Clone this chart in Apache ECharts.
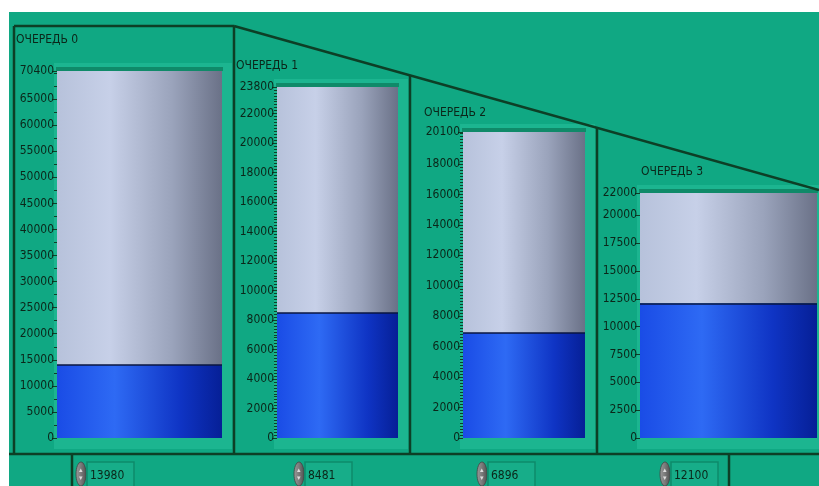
<!DOCTYPE html>
<html>
<head>
<meta charset="utf-8">
<script src="https://cdn.jsdelivr.net/npm/echarts@6/dist/echarts.min.js"></script>
<style>
  html, body { margin: 0; padding: 0; background: #fff; }
  #chart { width: 819px; height: 486px; }
</style>
</head>
<body>
<div id="chart"></div>
<script>
// очереди: подписи, текущие значения, максимумы шкал
var queueNames = ['ОЧЕРЕДЬ 0', 'ОЧЕРЕДЬ 1', 'ОЧЕРЕДЬ 2', 'ОЧЕРЕДЬ 3'];
var queueValues = [13980, 8481, 6896, 12100];
var scaleMax = [70400, 23800, 20100, 22000];
// подписи шкал
var ticks0 = [0, 5000, 10000, 15000, 20000, 25000, 30000, 35000, 40000, 45000, 50000, 55000, 60000, 65000, 70400];
var ticks1 = [0, 2000, 4000, 6000, 8000, 10000, 12000, 14000, 16000, 18000, 20000, 22000, 23800];
var ticks2 = [0, 2000, 4000, 6000, 8000, 10000, 12000, 14000, 16000, 18000, 20100];
var ticks3 = [0, 2500, 5000, 7500, 10000, 12500, 15000, 17500, 20000, 22000];
var majorTicks = [ticks0, ticks1, ticks2, ticks3];
var minorStep = [2500, 200, 200, 0];

var TEAL = '#10a883';
var DARK = '#0d3f26';
var FONT = '"Liberation Sans Narrow", "DejaVu Sans Condensed", sans-serif';

// геометрия баков (пиксели)
var tanks = [
  {left: 57, top: 71, width: 165, height: 367, titleX: 16, titleY: 40},
  {left: 277, top: 87, width: 121, height: 351, titleX: 236, titleY: 66},
  {left: 463, top: 132, width: 122, height: 306, titleX: 424, titleY: 113},
  {left: 640, top: 193, width: 177, height: 245, titleX: 641, titleY: 172}
];
var ctrls = [76, 294, 477, 660];

var chart = echarts.init(document.getElementById('chart'));

var emptyGrad = new echarts.graphic.LinearGradient(0, 0, 1, 0, [
  {offset: 0, color: '#b7c2db'},
  {offset: 0.32, color: '#c7d0e8'},
  {offset: 0.7, color: '#9aa3bb'},
  {offset: 1, color: '#6a7187'}
]);
var fillGrad = new echarts.graphic.LinearGradient(0, 0, 1, 0, [
  {offset: 0, color: '#1a4ce6'},
  {offset: 0.35, color: '#2e6af4'},
  {offset: 0.75, color: '#0f34c4'},
  {offset: 1, color: '#061f96'}
]);

var grids = [], xAxes = [], yAxes = [], series = [], graphics = [];

// фон
graphics.push({type: 'rect', z: -10, shape: {x: 9, y: 12, width: 810, height: 474}, style: {fill: TEAL}});

tanks.forEach(function (t, i) {
  grids.push({left: t.left, top: t.top, width: t.width, height: t.height});
  xAxes.push({type: 'category', gridIndex: i, data: [''], show: false, boundaryGap: true});
  var major = yAxes.length;
  yAxes.push({
    type: 'value', gridIndex: i, position: 'left', min: 0, max: scaleMax[i],
    splitLine: {show: false},
    axisLine: {show: false},
    axisTick: {show: true, length: 5, lineStyle: {color: DARK, width: 1}, customValues: majorTicks[i]},
    axisLabel: {color: '#0b2619', fontFamily: FONT, fontSize: 12, margin: 3, customValues: majorTicks[i],
      formatter: function (v) { return String(v); }}
  });
  if (minorStep[i]) {
    yAxes.push({
      type: 'value', gridIndex: i, position: 'left', min: 0, max: scaleMax[i], interval: minorStep[i],
      splitLine: {show: false}, axisLine: {show: false}, axisLabel: {show: false},
      axisTick: {show: true, length: 3, lineStyle: {color: DARK, width: 1}}
    });
  }
  series.push({
    type: 'bar', xAxisIndex: i, yAxisIndex: major, stack: 'q' + i, barWidth: '100%',
    data: [queueValues[i]], itemStyle: {color: fillGrad}, silent: true,
    markLine: {
      symbol: 'none', silent: true, label: {show: false},
      lineStyle: {color: '#0a1640', width: 1.5, type: 'solid'},
      data: [{yAxis: queueValues[i]}]
    }
  });
  series.push({
    type: 'bar', xAxisIndex: i, yAxisIndex: major, stack: 'q' + i, barWidth: '100%',
    data: [scaleMax[i] - queueValues[i]], itemStyle: {color: emptyGrad}, silent: true
  });

  // рамка бака
  graphics.push({type: 'rect', z: -5, shape: {x: t.left - 3, y: t.top - 8, width: t.width + (i === 3 ? 5 : 13), height: 449 - t.top + 8},
    style: {fill: '#1cb590'}});
  graphics.push({type: 'rect', z: -4, shape: {x: t.left - 1, y: t.top - 4, width: t.width + 2, height: 4},
    style: {fill: '#0f8a69'}});

  graphics.push({type: 'text', z: 50, x: t.titleX, y: t.titleY,
    style: {text: queueNames[i], fill: '#0b2619', font: '12px ' + FONT, textVerticalAlign: 'middle'}});

  // цифровой индикатор
  var cx = ctrls[i];
  graphics.push({type: 'ellipse', z: 50, shape: {cx: cx + 5, cy: 474, rx: 5, ry: 12},
    style: {fill: new echarts.graphic.LinearGradient(0, 0, 1, 0, [{offset: 0, color: '#9a9a9a'}, {offset: 0.5, color: '#7a7a7a'}, {offset: 1, color: '#505050'}]), stroke: '#444', lineWidth: 0.8}});
  graphics.push({type: 'text', z: 51, x: cx + 5, y: 474,
    style: {text: '▴\n▾', fill: '#ddd', font: '7px sans-serif', textAlign: 'center', textVerticalAlign: 'middle', lineHeight: 8}});
  graphics.push({type: 'rect', z: 50, shape: {x: cx + 11, y: 462, width: 47, height: 26},
    style: {fill: '#17ad89', stroke: '#0e8a6b', lineWidth: 1.5}});
  graphics.push({type: 'text', z: 51, x: cx + 14, y: 476,
    style: {text: String(queueValues[i]), fill: '#0b2619', font: '12px ' + FONT, textVerticalAlign: 'middle'}});
});

// линии панелей
var lineStyle = {stroke: DARK, lineWidth: 2.5};
[
  [14, 26, 234, 26],
  [234, 26, 819, 190],
  [14, 26, 14, 454],
  [234, 26, 234, 454],
  [410, 75, 410, 454],
  [597, 127, 597, 454],
  [9, 454, 819, 454],
  [72, 454, 72, 486],
  [729, 454, 729, 486]
].forEach(function (l) {
  graphics.push({type: 'line', z: 60, shape: {x1: l[0], y1: l[1], x2: l[2], y2: l[3]}, style: lineStyle});
});

chart.setOption({
  backgroundColor: '#ffffff',
  animation: false,
  grid: grids,
  xAxis: xAxes,
  yAxis: yAxes,
  series: series,
  graphic: graphics
});
</script>
</body>
</html>
